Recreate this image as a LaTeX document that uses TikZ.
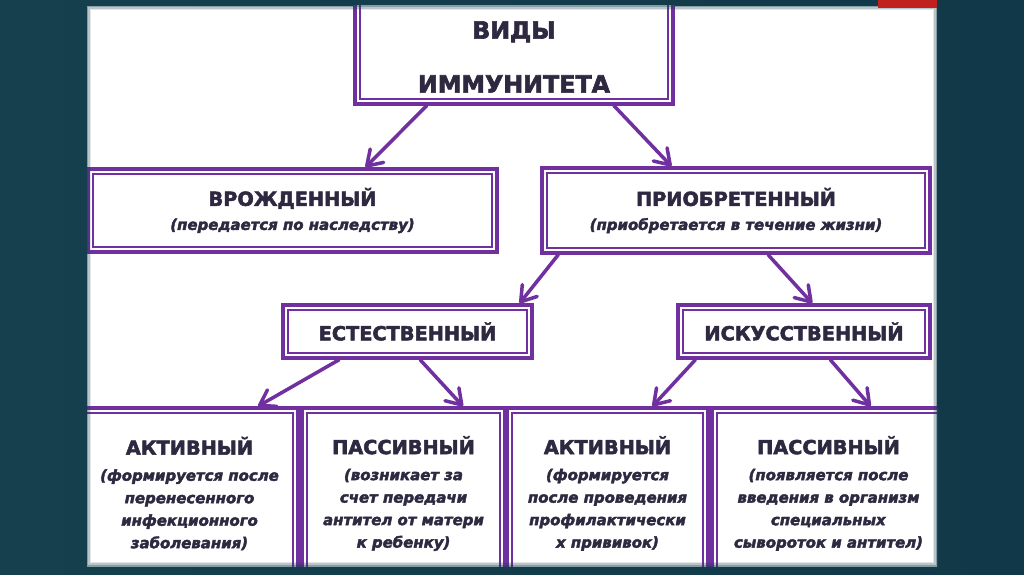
\documentclass[tikz,border=0pt]{standalone}
\usepackage{fontspec}
\setmainfont{DejaVu Sans}[BoldFeatures={FakeBold=2.6}, BoldItalicFeatures={FakeBold=2.6}]
\usetikzlibrary{arrows.meta, calc}

\definecolor{immpurple}{RGB}{112,48,160}
\definecolor{immtext}{RGB}{46,40,64}
\definecolor{immteal}{RGB}{22,64,78}
\definecolor{immtealdark}{RGB}{17,56,72}
\definecolor{immred}{RGB}{192,32,30}

\tikzset{
    kind/.style={draw=immpurple, line width=2pt, fill=white, text=immtext, align=center, inner sep=0pt,
        font=\bfseries\fontsize{8.5}{13.7}\selectfont,
        path picture={\draw[immpurple, line width=0.8pt]
            ([shift={(2.8pt,2.8pt)}]path picture bounding box.south west) rectangle
            ([shift={(-2.8pt,-2.8pt)}]path picture bounding box.north east);}},
    leaf/.style={kind, minimum height=3.42cm, font=\bfseries\fontsize{8.5}{12.8}\selectfont},
    branch/.style={draw=immpurple, line width=2pt, line cap=round,
        -{Straight Barb[length=2.9mm, width=3.8mm, round]}},
}

\begin{document}
\begin{tikzpicture}[x=1cm,y=1cm]
    \useasboundingbox (0,0) rectangle (20.48,11.48);
    \shade[left color=immteal, right color=immtealdark] (0,0) rectangle (20.48,11.48);
    \begin{scope}
    \clip (1.74,0.16) rectangle (18.74,11.36);
    \fill[white] (1.74,0.16) rectangle (18.74,11.36);
    % top
    \node[kind, minimum width=6.36cm, minimum height=2.15cm, font=\bfseries\fontsize{13.5}{30.7}\selectfont] (vid) at (10.28,10.475) {\rule{0pt}{17.5pt}ВИДЫ\\ИММУНИТЕТА};
    % second row
    \node[kind, minimum width=8.18cm, minimum height=1.66cm] (vrozh) at (5.85,7.27)
        {{\fontsize{11}{13.7}\selectfont ВРОЖДЕННЫЙ}\\\textit{(передается по наследству)}};
    \node[kind, minimum width=7.76cm, minimum height=1.70cm] (priob) at (14.72,7.27)
        {{\fontsize{11}{13.7}\selectfont ПРИОБРЕТЕННЫЙ}\\\textit{(приобретается в течение жизни)}};
    % third row
    \node[kind, minimum width=4.98cm, minimum height=1.06cm, font=\bfseries\fontsize{11}{13.7}\selectfont] (estest) at (8.15,4.85) {ЕСТЕСТВЕННЫЙ};
    \node[kind, minimum width=5.04cm, minimum height=1.06cm, font=\bfseries\fontsize{11}{13.7}\selectfont] (iskus) at (16.08,4.85) {ИСКУССТВЕННЫЙ};
    % bottom row
    \node[leaf, minimum width=4.34cm] (akt1) at (3.79,1.61)
        {{\fontsize{11}{13.7}\selectfont АКТИВНЫЙ}\\[2pt]\textit{(формируется после}\\\textit{перенесенного}\\\textit{инфекционного}\\\textit{заболевания)}};
    \node[leaf, minimum width=4.06cm] (pass1) at (8.07,1.61)
        {{\fontsize{11}{13.7}\selectfont ПАССИВНЫЙ}\\[2pt]\textit{(возникает за}\\\textit{счет передачи}\\\textit{антител от матери}\\\textit{к ребенку)}};
    \node[leaf, minimum width=4.02cm] (akt2) at (12.15,1.61)
        {{\fontsize{11}{13.7}\selectfont АКТИВНЫЙ}\\[2pt]\textit{(формируется}\\\textit{после проведения}\\\textit{профилактически}\\\textit{х прививок)}};
    \node[leaf, minimum width=4.66cm] (pass2) at (16.57,1.61)
        {{\fontsize{11}{13.7}\selectfont ПАССИВНЫЙ}\\[2pt]\textit{(появляется после}\\\textit{введения в организм}\\\textit{специальных}\\\textit{сывороток и антител)}};
    % arrows
    \draw[branch] ($(vid.south west)!0.228!(vid.south east)$) -- ($(vrozh.north west)!0.677!(vrozh.north east)$);
    \draw[branch] ($(vid.south west)!0.811!(vid.south east)$) -- ($(priob.north west)!0.335!(priob.north east)$);
    \draw[branch] ($(priob.south west)!0.046!(priob.south east)$) -- ($(estest.north west)!0.944!(estest.north east)$);
    \draw[branch] ($(priob.south west)!0.582!(priob.south east)$) -- ($(iskus.north west)!0.532!(iskus.north east)$);
    \draw[branch] ($(estest.south west)!0.229!(estest.south east)$) -- ($(akt1.north west)!0.811!(akt1.north east)$);
    \draw[branch] ($(estest.south west)!0.55!(estest.south east)$) -- ($(pass1.north west)!0.788!(pass1.north east)$);
    \draw[branch] ($(iskus.south west)!0.075!(iskus.south east)$) -- ($(akt2.north west)!0.72!(akt2.north east)$);
    \draw[branch] ($(iskus.south west)!0.603!(iskus.south east)$) -- ($(pass2.north west)!0.678!(pass2.north east)$);
    \end{scope}
    % soft panel edge
    \draw[immteal, opacity=0.3, line width=1.5pt] (1.74,0.16) rectangle (18.74,11.36);
    \draw[immteal, opacity=0.2, line width=3pt] (1.74,0.16) rectangle (18.74,11.36);
    \draw[immteal, opacity=0.12, line width=5pt] (1.74,0.16) rectangle (18.74,11.36);
    \fill[immred] (17.56,11.32) rectangle (18.74,11.48);
\end{tikzpicture}
\end{document}
